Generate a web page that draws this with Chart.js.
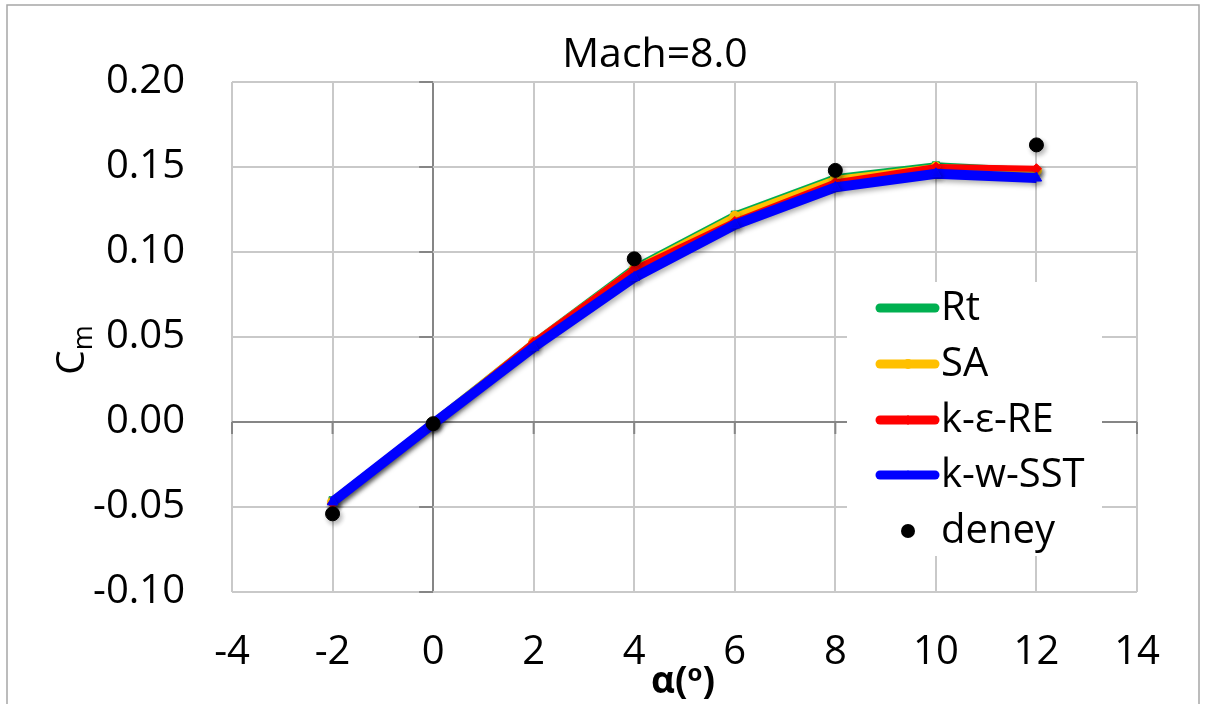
<!DOCTYPE html>
<html>
<head>
<meta charset="utf-8">
<script src="https://cdn.jsdelivr.net/npm/chart.js@4.4.0/dist/chart.umd.min.js"></script>
<style>
html,body{margin:0;padding:0;background:#fff;}
#wrap{width:1205px;height:704px;position:relative;}
</style>
</head>
<body>
<div id="wrap"><canvas id="cmChart" width="1205" height="704"></canvas></div>
<script>
// data
var ALPHA   = [-2, 0, 2, 4, 6, 8, 10, 12];
var RT      = [-0.046, 0.000, 0.047, 0.091, 0.122, 0.144, 0.151, 0.148];
var SA      = [-0.047, 0.000, 0.047, 0.090, 0.121, 0.143, 0.150, 0.148];
var KE_RE   = [-0.048, -0.001, 0.047, 0.090, 0.118, 0.141, 0.150, 0.149];
var KW_SST  = [-0.047, -0.001, 0.044, 0.085, 0.116, 0.138, 0.146, 0.1435];
var DENEY_X = [-2, 0, 4, 8, 12];
var DENEY   = [-0.054, -0.001, 0.096, 0.148, 0.163];
var X_TICKS = [-4, -2, 0, 2, 4, 6, 8, 10, 12, 14];
var Y_TICKS = [-0.10, -0.05, 0.00, 0.05, 0.10, 0.15, 0.20];

var FONT = '"Open Sans", "DejaVu Sans", sans-serif';

function pts(xs, ys){
  var out = [];
  for(var i=0;i<xs.length;i++){ out.push({x:xs[i], y:ys[i]}); }
  return out;
}

var SERIES = [
  {label:'Rt',       data:RT,     color:'#00b050', style:'rect',     r:5, w:6, order:4},
  {label:'SA',       data:SA,     color:'#ffc000', style:'circle',   r:5, w:6, order:3},
  {label:'k-\u03b5-RE', data:KE_RE, color:'#ff0000', style:'rectRot', r:5, w:6, order:2},
  {label:'k-w-SST',  data:KW_SST, color:'#0000ff', style:'triangle', r:6, w:10, order:1}
];

var datasets = [];
for(var i=0;i<SERIES.length;i++){
  var s = SERIES[i];
  datasets.push({
    label: s.label,
    data: pts(ALPHA, s.data),
    borderColor: s.color,
    backgroundColor: s.color,
    borderWidth: s.w,
    pointStyle: s.style,
    pointRadius: s.r,
    pointBorderWidth: 1,
    showLine: true,
    tension: 0,
    order: s.order
  });
}
datasets.push({
  label: 'deney',
  data: pts(DENEY_X, DENEY),
  borderColor: '#000',
  backgroundColor: '#000',
  pointStyle: 'circle',
  pointRadius: 7,
  showLine: false,
  order: 0
});

var extras = {
  id: 'extras',
  beforeDatasetsDraw: function(chart){
    var ctx = chart.ctx, xs = chart.scales.x, ys = chart.scales.y;
    var x0 = xs.getPixelForValue(0), y0 = ys.getPixelForValue(0);
    ctx.save();
    ctx.strokeStyle = '#868686';
    ctx.lineWidth = 2;
    ctx.beginPath();
    for(var i=0;i<Y_TICKS.length;i++){
      var y = ys.getPixelForValue(Y_TICKS[i]);
      ctx.moveTo(x0 - 14, y); ctx.lineTo(x0, y);
    }
    for(var j=0;j<X_TICKS.length;j++){
      var x = xs.getPixelForValue(X_TICKS[j]);
      ctx.moveTo(x, y0); ctx.lineTo(x, y0 + 12);
    }
    ctx.stroke();
    ctx.restore();
  },
  beforeDatasetDraw: function(chart){
    var ctx = chart.ctx;
    ctx.save();
    ctx.shadowColor = 'rgba(0,0,0,0.3)';
    ctx.shadowBlur = 5;
    ctx.shadowOffsetX = 2;
    ctx.shadowOffsetY = 3;
  },
  afterDatasetDraw: function(chart){
    chart.ctx.restore();
  },
  afterDraw: function(chart){
    var ctx = chart.ctx, a = chart.chartArea;
    ctx.save();
    // outer border
    ctx.strokeStyle = '#a6a6a6';
    ctx.lineWidth = 1.5;
    ctx.strokeRect(7, 5, 1192, 740);

    // title
    ctx.fillStyle = '#000';
    ctx.font = '41px ' + FONT;
    ctx.textAlign = 'center';
    ctx.textBaseline = 'middle';
    ctx.fillText('Mach=8.0', 655, 55);

    // y axis title  C with subscript m
    ctx.save();
    ctx.translate(70, 350);
    ctx.rotate(-Math.PI/2);
    ctx.textAlign = 'left';
    ctx.textBaseline = 'alphabetic';
    ctx.font = '39px ' + FONT;
    var cw = ctx.measureText('C').width;
    ctx.font = '27px ' + FONT;
    var mw = ctx.measureText('m').width;
    var sx = -(cw + mw)/2;
    ctx.font = '39px ' + FONT;
    ctx.fillText('C', sx, 14);
    ctx.font = '27px ' + FONT;
    ctx.fillText('m', sx + cw, 22);
    ctx.restore();

    // x axis title  alpha(o)
    ctx.textAlign = 'left';
    ctx.textBaseline = 'alphabetic';
    ctx.font = 'bold 37px ' + FONT;
    var t1 = '\u03b1(', t3 = ')';
    var w1 = ctx.measureText(t1).width, w3 = ctx.measureText(t3).width;
    ctx.font = 'bold 24px ' + FONT;
    var w2 = ctx.measureText('o').width;
    var bx = 683 - (w1 + w2 + w3)/2, by = 693;
    ctx.font = 'bold 37px ' + FONT;
    ctx.fillText(t1, bx, by);
    ctx.font = 'bold 24px ' + FONT;
    ctx.fillText('o', bx + w1, by - 12);
    ctx.font = 'bold 37px ' + FONT;
    ctx.fillText(t3, bx + w1 + w2, by);

    // legend
    ctx.fillStyle = '#fff';
    ctx.fillRect(847, 282, 255, 274);
    var rowY = [308, 364, 420, 475, 531];
    for(var i=0;i<SERIES.length;i++){
      var s = SERIES[i], y = rowY[i];
      ctx.strokeStyle = s.color;
      ctx.lineWidth = 9;
      ctx.lineCap = 'round';
      ctx.beginPath(); ctx.moveTo(880, y); ctx.lineTo(935, y); ctx.stroke();
      ctx.fillStyle = s.color;
      Chart.helpers.drawPoint(ctx, {pointStyle: s.style, radius: 5, borderWidth: 0}, 908, y);
    }
    ctx.fillStyle = '#000';
    ctx.beginPath(); ctx.arc(908, rowY[4], 7, 0, Math.PI*2); ctx.fill();
    ctx.fillStyle = '#000';
    ctx.font = '40px ' + FONT;
    ctx.textBaseline = 'middle';
    ctx.textAlign = 'left';
    var names = ['Rt', 'SA', 'k-\u03b5-RE', 'k-w-SST', 'deney'];
    for(var k=0;k<names.length;k++){ ctx.fillText(names[k], 941, rowY[k] + 1); }
    ctx.restore();
  }
};

function gridColor(c){
  return (c.tick && Math.abs(c.tick.value) < 1e-9) ? '#868686' : '#c9c9c9';
}

window.addEventListener('load', function(){
  var ctx = document.getElementById('cmChart').getContext('2d');
  new Chart(ctx, {
    type: 'scatter',
    data: { datasets: datasets },
    plugins: [extras],
    options: {
      responsive: false,
      animation: false,
      layout: { padding: { left: 0, right: 68, top: 82, bottom: 0 } },
      plugins: { legend: { display: false }, tooltip: { enabled: false }, title: { display: false } },
      scales: {
        x: {
          type: 'linear', min: -4, max: 14,
          afterBuildTicks: function(sc){ sc.ticks = X_TICKS.map(function(v){ return {value:v}; }); },
          afterFit: function(sc){ sc.height = 112; },
          ticks: { color: '#000', font: { family: FONT, size: 40 }, padding: 37 },
          grid: { color: gridColor, lineWidth: 2, drawTicks: false },
          border: { display: false }
        },
        y: {
          type: 'linear', min: -0.10, max: 0.20,
          afterBuildTicks: function(sc){ sc.ticks = Y_TICKS.map(function(v){ return {value:v}; }); },
          afterFit: function(sc){ sc.width = 232; },
          ticks: { color: '#000', font: { family: FONT, size: 40 }, padding: 47,
                   callback: function(v){ return Number(v).toFixed(2); } },
          grid: { color: gridColor, lineWidth: 2, drawTicks: false },
          border: { display: false }
        }
      }
    }
  });
});
</script>
</body>
</html>
